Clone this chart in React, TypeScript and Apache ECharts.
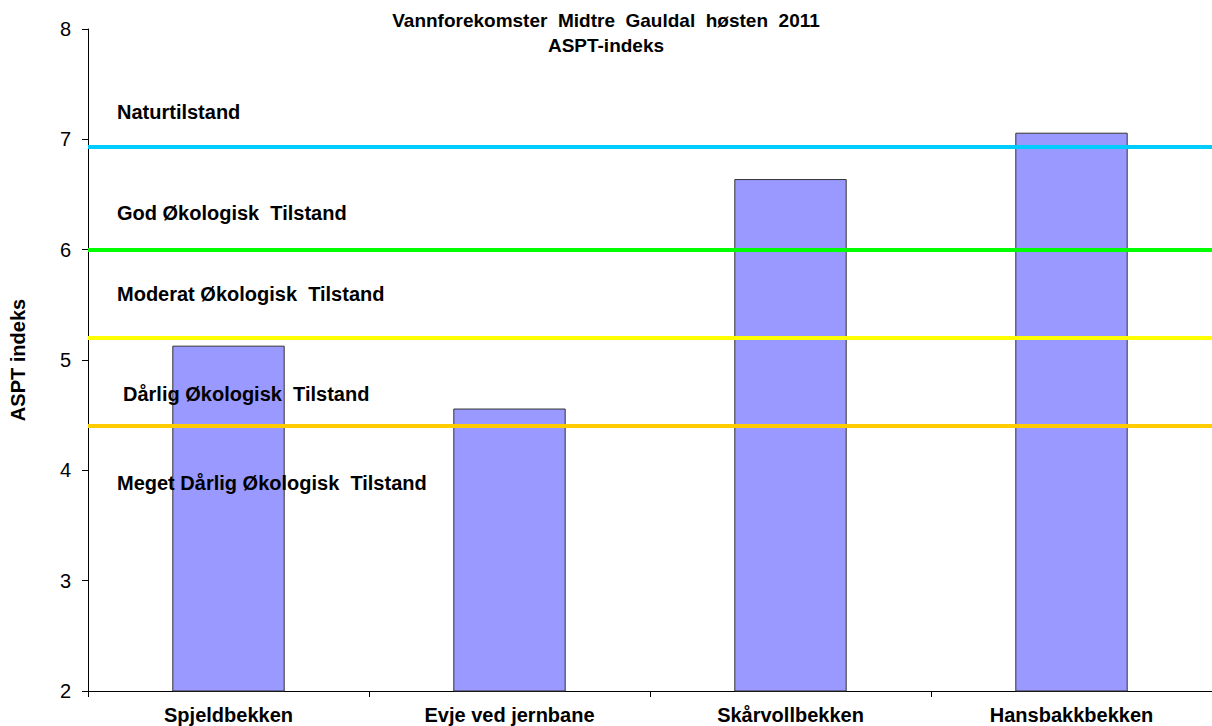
import React, { useEffect, useRef } from "react";
import * as echarts from "echarts";

const categories = ["Spjeldbekken", "Evje ved jernbane", "Skårvollbekken", "Hansbakkbekken"];
const asptValues = [5.13, 4.56, 6.64, 7.06];
const thresholdValues = [6.93, 6.0, 5.2, 4.4];
const thresholdColors = ["#00CCFF", "#00FF00", "#FFFF00", "#FFCC00"];
const zoneLabels = [
  "Naturtilstand",
  "God Økologisk  Tilstand",
  "Moderat Økologisk  Tilstand",
  "Dårlig Økologisk  Tilstand",
  "Meget Dårlig Økologisk  Tilstand",
];
const zoneLabelPos = [
  [117, 112],
  [117, 213],
  [117, 294],
  [123, 394],
  [117, 483],
];
const yTicks = { min: 2, max: 8, interval: 1 };

const FONT = '"Liberation Sans", Arial, sans-serif';

export default function App() {
  const ref = useRef<HTMLDivElement>(null);
  useEffect(() => {
    if (!ref.current) return;
    const chart = echarts.init(ref.current, undefined, { renderer: "svg" });
    chart.setOption({
      animation: false,
      backgroundColor: "#ffffff",
      title: {
        text: "Vannforekomster  Midtre  Gauldal  høsten  2011\nASPT-indeks",
        left: "center",
        top: 3,
        textStyle: { fontFamily: FONT, fontWeight: "bold", fontSize: 19, color: "#000", lineHeight: 25 },
      },
      grid: { left: 88, right: 0, top: 29, bottom: 35, containLabel: false },
      xAxis: {
        type: "category",
        data: categories,
        boundaryGap: true,
        axisLine: { lineStyle: { color: "#000", width: 1 } },
        axisTick: { show: true, length: 6, alignWithLabel: false, lineStyle: { color: "#000" } },
        axisLabel: { fontFamily: FONT, fontWeight: "bold", fontSize: 20, color: "#000", margin: 14, interval: 0 },
      },
      yAxis: {
        type: "value",
        min: yTicks.min,
        max: yTicks.max,
        interval: yTicks.interval,
        name: "ASPT indeks",
        nameLocation: "middle",
        nameGap: 60,
        nameTextStyle: { fontFamily: FONT, fontWeight: "bold", fontSize: 20, color: "#000" },
        splitLine: { show: false },
        axisLine: { show: true, lineStyle: { color: "#000", width: 1 } },
        axisTick: { show: true, length: 6, lineStyle: { color: "#000" } },
        axisLabel: { fontFamily: FONT, fontSize: 20, color: "#000", margin: 17 },
      },
      series: [
        {
          type: "bar",
          data: asptValues,
          barWidth: "40%",
          itemStyle: { color: "#9999FF", borderColor: "#333333", borderWidth: 1 },
          silent: true,
          markLine: {
            silent: true,
            symbol: "none",
            label: { show: false },
            z: 5,
            data: thresholdValues.map((v, i) => ({
              yAxis: v,
              lineStyle: { color: thresholdColors[i], width: 4, type: "solid" },
            })),
          },
        },
      ],
      graphic: zoneLabels.map((t, i) => ({
        type: "text",
        x: zoneLabelPos[i][0],
        y: zoneLabelPos[i][1],
        z: 100,
        style: {
          text: t,
          fill: "#000",
          font: `bold 20px ${FONT}`,
          verticalAlign: "middle",
          align: "left",
        },
      })),
    });
    return () => chart.dispose();
  }, []);
  return (
    <div
      ref={ref}
      style={{ position: "fixed", left: 0, top: 0, width: 1212, height: 726 }}
    />
  );
}
